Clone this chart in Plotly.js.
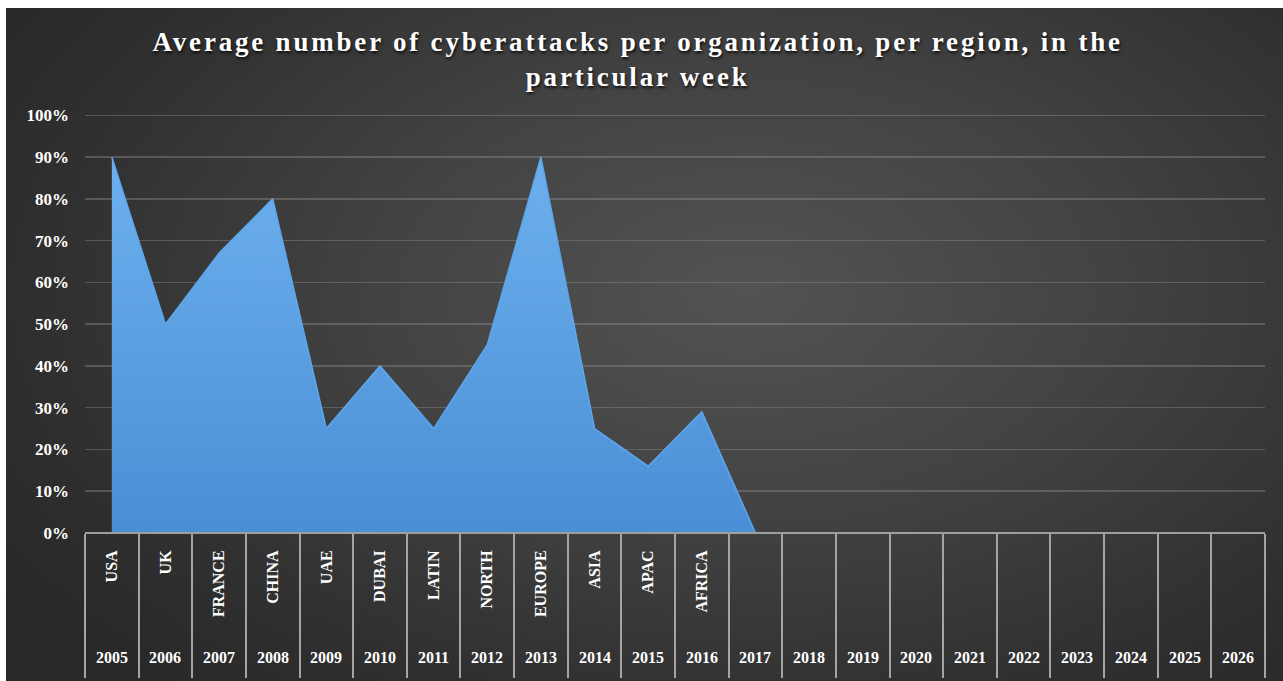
<!DOCTYPE html>
<html>
<head>
<meta charset="utf-8">
<script src="https://cdn.plot.ly/plotly-3.0.1.min.js"></script>
<style>
  html, body { margin: 0; padding: 0; background: #ffffff; width: 1283px; height: 681px; overflow: hidden; }
  #bg { position: absolute; left: 6px; top: 8px; width: 1277px; height: 673px;
        background: radial-gradient(ellipse 70% 80% at 58% 42%, #535353 0%, #434343 40%, #2f2f2f 80%, #282828 100%); }
  #chart { position: absolute; left: 0; top: 0; width: 1283px; height: 681px; }
  .gtitle { letter-spacing: 2.8px; }
</style>
</head>
<body>
<div id="bg"></div>
<div id="chart"></div>
<script>
const years = ['2005','2006','2007','2008','2009','2010','2011','2012','2013','2014','2015','2016','2017','2018','2019','2020','2021','2022','2023','2024','2025','2026'];
const regions = ['USA','UK','FRANCE','CHINA','UAE','DUBAI','LATIN','NORTH','EUROPE','ASIA','APAC','AFRICA','','','','','','','','','',''];
const values = [0.90, 0.50, 0.67, 0.80, 0.25, 0.40, 0.25, 0.45, 0.90, 0.25, 0.16, 0.29, 0.00];

const idx = years.map((_, i) => i);
const bounds = years.map((_, i) => i - 0.5).concat([years.length - 0.5]);
const W = 1283, H = 681;
const mt = 114, mb = 36;
const plotH = H - mt - mb;
const ydom = (H - mb - 533) / plotH;

const serif = 'Liberation Serif, Times New Roman, serif';

const trace = {
  type: 'scatter',
  mode: 'lines',
  x: values.map((_, i) => i),
  y: values,
  fill: 'tozeroy',
  line: { color: '#5ea6ec', width: 1.5 },
  fillgradient: { type: 'vertical', colorscale: [[0, '#4a8fd6'], [1, '#6cb0ee']] },
  hoverinfo: 'skip',
  showlegend: false
};

const yearAnnotations = years.map((yr, i) => ({
  x: i, xref: 'x',
  y: -12 / plotH, yref: 'paper',
  xanchor: 'center', yanchor: 'middle',
  text: yr, showarrow: false,
  font: { family: serif, size: 16, weight: 'bold', color: '#ffffff' }
}));

const layout = {
  width: W, height: H,
  paper_bgcolor: 'rgba(0,0,0,0)',
  plot_bgcolor: 'rgba(0,0,0,0)',
  margin: { l: 85, r: 18, t: mt, b: mb },
  showlegend: false,
  title: {
    text: 'Average number of cyberattacks per organization, per region, in the<br>particular week',
    font: { family: serif, size: 27, weight: 'bold', color: '#ffffff', shadow: '1px 2px 3px rgba(0,0,0,0.8)' },
    x: 0.497, xref: 'container', xanchor: 'center',
    y: 0.925, yref: 'container', yanchor: 'top'
  },
  xaxis: {
    type: 'linear',
    range: [-0.5, years.length - 0.5],
    anchor: 'free', position: ydom,
    tickmode: 'array', tickvals: idx, ticktext: regions,
    tickangle: -90,
    ticks: '',
    ticklabelstandoff: 10,
    tickfont: { family: serif, size: 16, weight: 'bold', color: '#ffffff' },
    showgrid: false, zeroline: false,
    showline: true, linecolor: '#9e9e9e', linewidth: 2,
    layer: 'above traces',
    minor: { tickmode: 'array', tickvals: bounds, ticks: 'outside', ticklen: 144, tickcolor: '#a4a4a4', tickwidth: 2, showgrid: false },
    fixedrange: true
  },
  yaxis: {
    range: [0, 1.003],
    domain: [ydom, 1],
    tickformat: '.0%', tick0: 0, dtick: 0.1,
    ticks: '',
    ticklabelstandoff: 15,
    tickfont: { family: serif, size: 17, weight: 'bold', color: '#ffffff' },
    showgrid: true, gridcolor: 'rgba(150,150,150,0.38)', gridwidth: 1.5,
    zeroline: false, showline: false,
    layer: 'above traces',
    fixedrange: true
  },
  annotations: yearAnnotations
};

Plotly.newPlot('chart', [trace], layout, { displayModeBar: false, staticPlot: true });
</script>
</body>
</html>
